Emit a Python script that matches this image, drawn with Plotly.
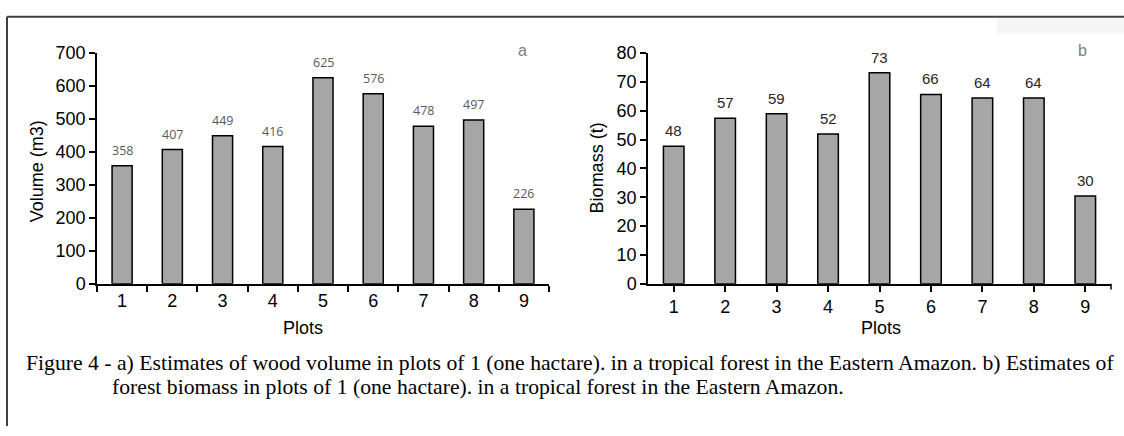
import plotly.graph_objects as go

W, H = 1124, 436

plots = ["1", "2", "3", "4", "5", "6", "7", "8", "9"]
volume = [358, 407, 449, 416, 625, 576, 478, 497, 226]
biomass = [47.7, 57.4, 58.9, 51.9, 73.1, 65.6, 64.4, 64.4, 30.4]
volume_ticks = [0, 100, 200, 300, 400, 500, 600, 700]
biomass_ticks = [0, 10, 20, 30, 40, 50, 60, 70, 80]
caption_lines = [
    "Figure 4 - a) Estimates of wood volume in plots of 1 (one hactare). in a tropical forest in the Eastern Amazon. b) Estimates of",
    "forest biomass in plots of 1 (one hactare). in a tropical forest in the Eastern Amazon.",
]


def px(x):
    return x / W


def py(y):
    return 1 - y / H


fig = go.Figure()

bar_style = dict(marker=dict(color="#a6a6a6", line=dict(color="#000000", width=1.5)),
                 width=0.4, showlegend=False, hoverinfo="skip")

fig.add_trace(go.Bar(x=plots, y=volume, xaxis="x", yaxis="y", **bar_style))
fig.add_trace(go.Bar(x=plots, y=biomass, xaxis="x2", yaxis="y2", **bar_style))

axis_font = dict(family="Liberation Sans, Arial", size=18, color="#000000")

common_x = dict(type="category", showline=True, linecolor="#000000", linewidth=1.5,
                ticks="outside", ticklen=6, tickcolor="#000000", tickwidth=1.5,
                tickfont=axis_font, showgrid=False, zeroline=False, range=[-0.5, 8.5],
                fixedrange=True)
common_y = dict(showline=True, linecolor="#000000", linewidth=1.5,
                ticks="outside", ticklen=6, tickcolor="#000000", tickwidth=1.5,
                tickfont=axis_font, showgrid=False, zeroline=False, fixedrange=True)

fig.update_layout(
    width=W, height=H,
    margin=dict(l=0, r=0, t=0, b=0),
    paper_bgcolor="#ffffff", plot_bgcolor="rgba(0,0,0,0)",
    xaxis=dict(domain=[px(97), px(549)], anchor="y", tickson="boundaries", **common_x),
    yaxis=dict(domain=[py(287), py(45)], anchor="x", range=[0, 700], tickvals=volume_ticks,
               **common_y),
    xaxis2=dict(domain=[px(648), px(1111)], anchor="y2", **common_x),
    yaxis2=dict(domain=[py(287), py(45)], anchor="x2", range=[0, 80], tickvals=biomass_ticks,
                **common_y),
)


def paper_text(x, y, text, font, xanchor="center", angle=0):
    return dict(x=px(x), y=py(y), xref="paper", yref="paper", text=text, showarrow=False,
                xanchor=xanchor, yanchor="middle", textangle=angle, font=font)


annotations = []
# value labels (x given as category index)
for i, v in enumerate(volume):
    annotations.append(dict(x=i, y=v, xref="x", yref="y", text=f"{v:.0f}", showarrow=False,
                            xanchor="center", yanchor="bottom", yshift=5,
                            font=dict(family="Open Sans, Liberation Sans", size=12.5, color="#595959")))
for i, v in enumerate(biomass):
    annotations.append(dict(x=i, y=v, xref="x2", yref="y2", text=f"{v:.0f}", showarrow=False,
                            xanchor="center", yanchor="bottom", yshift=5,
                            font=dict(family="Liberation Sans, Arial", size=15, color="#262626")))

# axis titles
annotations.append(paper_text(37, 169, "Volume (m3)", axis_font, angle=-90))
annotations.append(paper_text(597, 166, "Biomass (t)", axis_font, angle=-90))
annotations.append(paper_text(303, 333, "Plots", axis_font))
annotations.append(paper_text(881, 333, "Plots", axis_font))
# panel letters
letter_font = dict(family="Liberation Sans", size=16, color="#808080")
annotations.append(paper_text(522, 42, "a", letter_font))
annotations.append(paper_text(1082, 42, "b", letter_font))
# caption
cap_font = dict(family="Liberation Serif, Times New Roman", size=21.7, color="#000000")
annotations.append(paper_text(24, 370, caption_lines[0], cap_font, xanchor="left"))
annotations.append(paper_text(110, 395, caption_lines[1], cap_font, xanchor="left"))
fig.update_layout(annotations=annotations)

shapes = [
    # faint band top right
    dict(type="rect", xref="paper", yref="paper", x0=px(997), x1=1, y0=py(25), y1=py(8),
         fillcolor="#f5f5f5", line=dict(width=0), layer="below"),
    # frame
    dict(type="line", xref="paper", yref="paper", x0=px(7), x1=1, y0=py(7), y1=py(7),
         line=dict(color="#3f3f3f", width=2)),
    dict(type="line", xref="paper", yref="paper", x0=px(7), x1=px(7), y0=py(7), y1=0,
         line=dict(color="#3f3f3f", width=2)),
    # end tick of right x-axis
    dict(type="line", xref="x2 domain", yref="paper", x0=1, x1=1, y0=py(287), y1=py(293),
         line=dict(color="#000000", width=1.5)),
]
fig.update_layout(shapes=shapes)

fig.write_html("out.html", config={"displayModeBar": False},
               post_script="document.body.style.margin='0';document.body.style.overflow='hidden';")
